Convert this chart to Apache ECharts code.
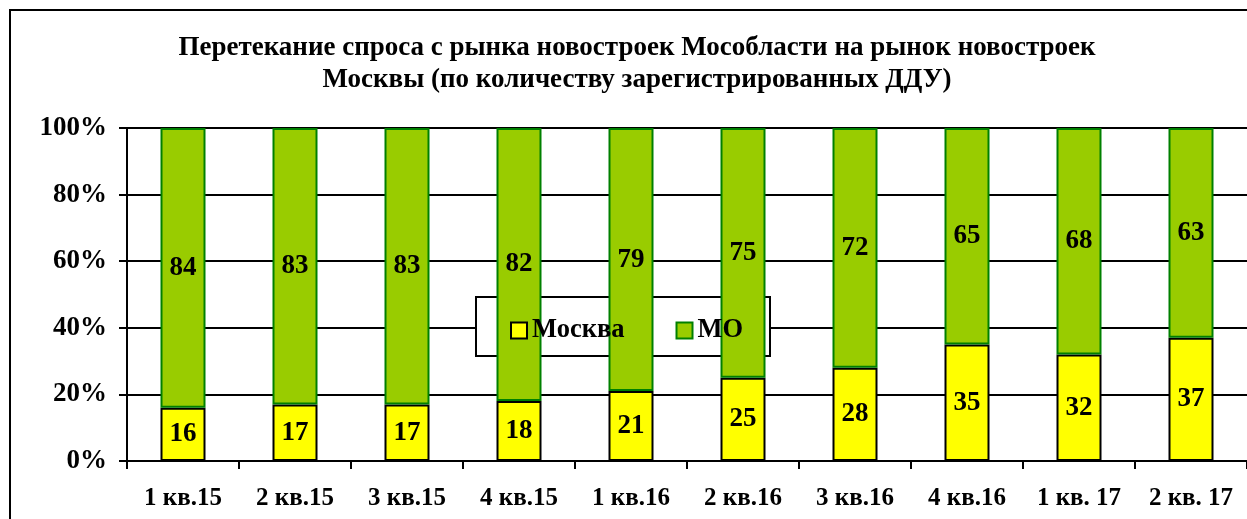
<!DOCTYPE html>
<html><head><meta charset="utf-8">
<script src="https://cdn.jsdelivr.net/npm/echarts@6/dist/echarts.min.js"></script>
<style>html,body{margin:0;padding:0;background:#fff;overflow:hidden}#c{width:1247px;height:519px}</style>
</head><body><div id="c"></div>
<script>
const categories = ['1 кв.15','2 кв.15','3 кв.15','4 кв.15','1 кв.16','2 кв.16','3 кв.16','4 кв.16','1 кв. 17','2 кв. 17'];
const moscow = [16,17,17,18,21,25,28,35,32,37];
const mo = [84,83,83,82,79,75,72,65,68,63];
const yTicks = [0,20,40,60,80,100];
const titleLines = ['Перетекание спроса с рынка новостроек Мособласти на рынок новостроек','Москвы (по количеству зарегистрированных ДДУ)'];

const FF = '"Liberation Serif","Times New Roman",serif';
const chart = echarts.init(document.getElementById('c'));
chart.setOption({
  animation:false,
  title:{text:titleLines.join('\n'),left:632,top:27,textAlign:'center',
    textStyle:{fontFamily:FF,fontWeight:'bold',fontSize:27,color:'#000',lineHeight:32}},
  graphic:[
    {type:'rect',z:0,silent:true,shape:{x:10,y:10,width:1300,height:600},style:{fill:'none',stroke:'#000',lineWidth:2}},
    {type:'rect',z:1,silent:true,shape:{x:476,y:297,width:294,height:59},style:{fill:'#fff',stroke:'#000',lineWidth:2}}
  ],
  legend:{left:505,top:312,z:10,itemWidth:16,itemHeight:16,itemGap:51,icon:'rect',
    textStyle:{fontFamily:FF,fontWeight:'bold',fontSize:26.5,color:'#000'},
    data:['Москва','МО']},
  grid:{left:127,top:128,width:1125,height:333},
  xAxis:{type:'category',data:categories,
    axisLine:{lineStyle:{color:'#000',width:2}},
    axisTick:{show:true,interval:0,length:8,lineStyle:{color:'#000',width:2}},
    axisLabel:{interval:0,margin:25,fontFamily:FF,fontWeight:'bold',fontSize:25,color:'#000'}},
  yAxis:{type:'value',min:0,max:100,interval:20,
    axisLine:{show:true,lineStyle:{color:'#000',width:2}},
    axisTick:{show:true,length:8,lineStyle:{color:'#000',width:2}},
    splitLine:{show:true,lineStyle:{color:'#000',width:2}},
    axisLabel:{margin:20,fontFamily:FF,fontWeight:'bold',fontSize:27,color:'#000',
      formatter:v=>yTicks.includes(v)?v+'%':''}},
  series:[
    {name:'Москва',type:'bar',stack:'s',barWidth:45,z:2,data:moscow,
      itemStyle:{color:'#FFFF00',borderColor:'#000',borderWidth:2},
      label:{show:true,position:'inside',fontFamily:FF,fontWeight:'bold',fontSize:27,color:'#000'}},
    {name:'МО',type:'bar',stack:'s',barWidth:45,z:2,data:mo,
      itemStyle:{color:'#99CC00',borderColor:'#008000',borderWidth:2},
      label:{show:true,position:'inside',fontFamily:FF,fontWeight:'bold',fontSize:27,color:'#000'}}
  ]
});
</script></body></html>
